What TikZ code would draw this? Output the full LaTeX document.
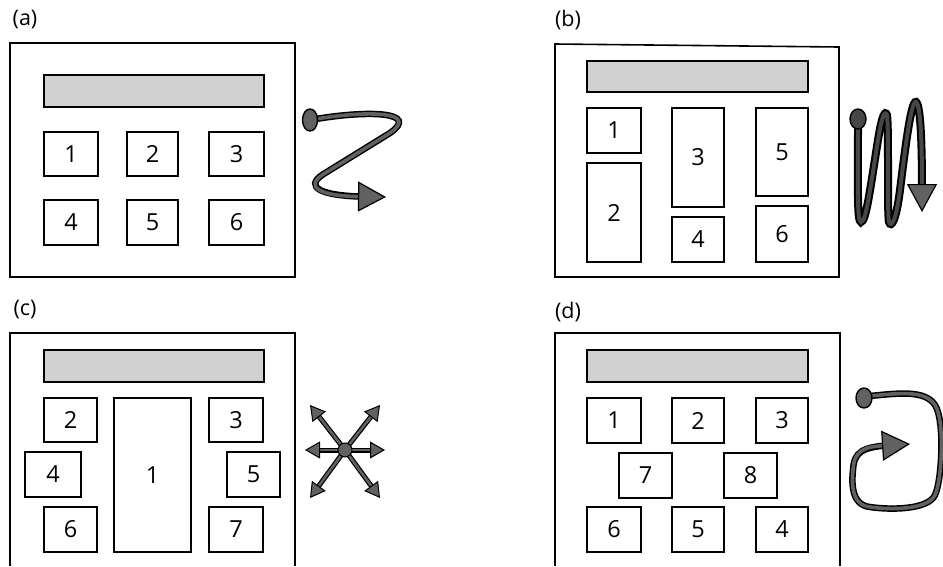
\documentclass[tikz,border=0pt]{standalone}
\usepackage{fontspec}
\setmainfont{Open Sans}
\usetikzlibrary{arrows.meta}
\definecolor{arrowgray}{gray}{0.38}
\definecolor{darkarrow}{gray}{0.28}
\definecolor{bargray}{gray}{0.82}
\newcommand\bx[6]{\node[box, minimum width={(#4-#2)*1pt}, minimum height={(#5-#3)*1pt}] (#1) at ({(#2+#4)/2},{(#3+#5)/2}) {#6};}
\tikzset{
  frame/.style={draw, line width=1.6pt},
  bar/.style={draw, line width=1.5pt, fill=bargray},
  box/.style={draw, line width=1.3pt, inner sep=0pt, font=\fontsize{23.5}{23.5}\selectfont},
  lbl/.style={inner sep=0pt, font=\fontsize{21.5}{21.5}\selectfont},
  flow/.style={line width=3.6pt, color=arrowgray, preaction={draw=black, line width=6.5pt, -, shorten >=#1}},
  startdot/.style={draw=black, line width=1.4pt, fill=arrowgray},
  bigtip/.style={-{Triangle[length=28pt, width=30pt, line width=1.2pt, fill=arrowgray, color=black]}},
  smalltip/.style={-{Triangle[length=15pt, width=17pt, line width=1pt, fill=arrowgray, color=black]}},
}
\begin{document}
\begin{tikzpicture}[x=1pt,y=-1pt]
\useasboundingbox (0,0) rectangle (943,566);

% ---------- (a)
\node[lbl] (la) at (25,20) {(a)};
\draw[frame] (10,43) rectangle (295,277);
\draw[bar] (44,75) rectangle (264,107);
\bx{a1}{44}{132}{98}{176}{1}
\bx{a2}{127}{132}{178}{176}{2}
\bx{a3}{209}{132}{264}{176}{3}
\bx{a4}{44}{200}{98}{245}{4}
\bx{a5}{127}{200}{178}{245}{5}
\bx{a6}{209}{200}{264}{245}{6}
\coordinate (aS) at (316,119);
\coordinate (aE) at (386,197);
\draw[flow=20pt, bigtip] (aS) .. controls (370,110) and (420,112) .. (390,133) -- (322,175) .. controls (305,187) and (320,196) .. (aE);
\draw[startdot] (310,120) ellipse [x radius=7.5, y radius=11];

% ---------- (b)
\node[lbl] (lb) at (568,20) {(b)};
\draw[frame] (555,44) -- (839,47) -- (839,277) -- (555,277) -- cycle;
\draw[bar] (587,61) rectangle (808,92);
\bx{b1}{587}{108}{641}{153}{1}
\bx{b2}{587}{163}{641}{262}{2}
\bx{b3}{672}{108}{724}{207}{3}
\bx{b4}{672}{217}{724}{262}{4}
\bx{b5}{756}{108}{808}{196}{5}
\bx{b6}{756}{206}{808}{262}{6}
\coordinate (bS) at (858,125);
\coordinate (bE) at (922,212);
\draw[flow=20pt, bigtip, color=darkarrow, line width=4pt, preaction={draw=black, line width=8pt, -, shorten >=20pt}] (bS) .. controls (858,190) and (857,222) .. (861,222) .. controls (866,222) and (870,190) .. (878,140) .. controls (882,115) and (885,110) .. (887,115) .. controls (889,130) and (887,215) .. (889,222) .. controls (891,228) and (896,222) .. (900,190) .. controls (905,150) and (911,100) .. (916,102) .. controls (921,105) and (922,150) .. (bE);
\draw[startdot, fill=darkarrow] (858,119) ellipse [x radius=8, y radius=10];

% ---------- (c)
\node[lbl] (lc) at (25,310) {(c)};
\draw[frame] (10,566) -- (10,333) -- (295,333) -- (295,566);
\draw[bar] (44,350) rectangle (264,382);
\bx{c2}{44}{398}{97}{442}{2}
\bx{c1}{114}{398}{191}{552}{1}
\bx{c3}{209}{398}{263}{442}{3}
\bx{c4}{25}{452}{81}{497}{4}
\bx{c5}{227}{452}{280}{497}{5}
\bx{c6}{44}{507}{97}{552}{6}
\bx{c7}{209}{507}{263}{552}{7}
\coordinate (cC) at (345,450);
\coordinate (cL) at (305,450);
\coordinate (cR) at (385,450);
\coordinate (cUL) at (310,405);
\coordinate (cUR) at (380,405);
\coordinate (cDL) at (310,498);
\coordinate (cDR) at (380,498);
\tikzset{starflow/.style={line width=2.6pt, color=arrowgray, preaction={draw=black, line width=5pt, -, shorten >=10pt}}}
\foreach \t in {cL,cR,cUL,cUR,cDL,cDR}{
  \draw[starflow, smalltip] (cC) -- (\t);
}
\fill[arrowgray, draw=black, line width=1pt] (cC) circle [radius=7];

% ---------- (d)
\node[lbl] (ld) at (568,312) {(d)};
\draw[frame] (555,566) -- (555,333) -- (840,333) -- (840,566);
\draw[bar] (587,350) rectangle (808,382);
\bx{d1}{587}{398}{641}{443}{1}
\bx{d2}{672}{398}{724}{443}{2}
\bx{d3}{756}{398}{808}{443}{3}
\bx{d7}{619}{453}{672}{498}{7}
\bx{d8}{724}{453}{777}{498}{8}
\bx{d6}{587}{507}{641}{552}{6}
\bx{d5}{672}{507}{724}{552}{5}
\bx{d4}{756}{507}{808}{552}{4}
\coordinate (dS) at (870,396);
\coordinate (dE) at (910,444);
\draw[flow=20pt, bigtip] (dS) .. controls (900,393) and (925,390) .. (935,405) .. controls (945,420) and (942,480) .. (935,495) .. controls (928,510) and (890,510) .. (870,507) .. controls (850,505) and (852,480) .. (853,470) .. controls (854,452) and (862,447) .. (dE);
\draw[startdot] (864,398) ellipse [x radius=8, y radius=10];
\end{tikzpicture}
\end{document}
